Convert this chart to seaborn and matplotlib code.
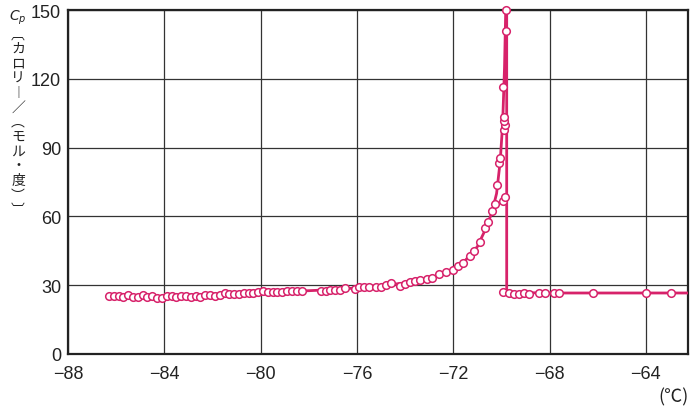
import numpy as np
import pandas as pd
import matplotlib
matplotlib.use("Agg")
import matplotlib.pyplot as plt
import seaborn as sns

# measured points (temperature in deg C, Cp in cal/(mol*deg))
low_t = [-86.3, -86.1, -85.9, -85.7, -85.5, -85.3, -85.1, -84.9, -84.7, -84.5,
         -84.3, -84.1, -83.9, -83.7, -83.5, -83.3, -83.1, -82.9, -82.7, -82.5,
         -82.3, -82.1, -81.9, -81.7, -81.5, -81.3, -81.1, -80.9, -80.7, -80.5,
         -80.3, -80.1, -79.9, -79.7, -79.5, -79.3, -79.1, -78.9, -78.7, -78.5,
         -78.3, -77.5, -77.3, -77.1, -76.9, -76.7, -76.5, -76.1, -75.9, -75.7,
         -75.5, -75.2, -75.0, -74.8, -74.6, -74.2, -74.0, -73.8, -73.6, -73.4,
         -73.1, -72.9]
low_cp = [25.3, 25.2, 25.3, 25.0, 25.6, 25.0, 24.8, 25.6, 25.0, 25.1,
          24.6, 24.5, 25.1, 25.1, 25.0, 25.3, 25.5, 25.0, 25.4, 24.9,
          25.6, 25.7, 25.5, 25.8, 26.5, 26.2, 26.2, 26.3, 26.6, 26.7,
          26.8, 26.9, 27.3, 27.0, 27.1, 27.2, 27.2, 27.3, 27.4, 27.5,
          27.5, 27.6, 27.3, 27.8, 28.0, 28.1, 28.9, 28.5, 29.1, 29.3,
          29.0, 29.4, 29.4, 30.1, 31.0, 29.6, 30.6, 31.2, 32.0, 32.4,
          32.5, 33.3]

peak_t = [-72.6, -72.3, -72.03, -71.8, -71.6, -71.3, -71.14, -70.9, -70.7, -70.55,
          -70.41, -70.27, -70.18, -70.08, -70.04, -69.94, -69.86, -69.9, -69.87, -69.89,
          -69.89, -69.93, -69.8, -69.8]
peak_cp = [34.9, 35.6, 36.8, 38.5, 39.7, 42.9, 44.8, 48.7, 54.8, 57.4,
           62.5, 65.4, 73.7, 83.3, 85.3, 66.6, 68.6, 97.7, 100.0, 101.7,
           103.2, 116.3, 141.0, 150.0]

high_t = [-69.94, -69.69, -69.49, -69.28, -69.07, -68.87, -68.45, -68.2, -67.83, -67.6,
          -66.2, -63.98, -62.97]
high_cp = [27.2, 26.6, 26.2, 26.2, 26.5, 26.2, 26.6, 26.5, 26.6, 26.6,
           26.6, 26.5, 26.6]

# smooth curve drawn through the points
curve_t = [-86.3, -85.0, -84.0, -83.0, -82.0, -81.0, -80.0, -79.0, -78.0, -77.0,
           -76.0, -75.0, -74.0, -73.0, -72.5, -72.0, -71.5, -71.0, -70.7, -70.4,
           -70.2, -70.05, -69.95, -69.87, -69.82, -69.78, -69.78, -69.6, -68.0, -66.0,
           -64.0, -62.25]
curve_cp = [25.1, 25.0, 25.0, 25.2, 25.7, 26.3, 26.8, 27.2, 27.6, 28.1,
            28.8, 29.8, 31.0, 33.0, 34.7, 36.8, 40.8, 46.8, 53.5, 61.5,
            70.0, 84.0, 100.0, 125.0, 150.0, 150.0, 27.5, 26.8, 26.6, 26.6,
            26.6, 26.6]

x_ticks = [-88, -84, -80, -76, -72, -68, -64]
y_ticks = [0, 30, 60, 90, 120, 150]
ylabel_chars = ["$C_p$", "︹", "カ", "ロ", "リ", "︱", "／", "︵", "モ", "ル", "・", "度", "︶", "︺"]

points = pd.DataFrame({
    "t": low_t + peak_t + high_t,
    "cp": low_cp + peak_cp + high_cp,
})
curve = pd.DataFrame({"t": curve_t, "cp": curve_cp})

sns.set_style("white")
plt.rcParams["font.family"] = ["Liberation Sans Narrow", "Liberation Sans", "Noto Sans CJK JP", "DejaVu Sans"]
plt.rcParams["axes.unicode_minus"] = True

line_color = "#d7226a"

fig = plt.figure(figsize=(6.96, 4.14), dpi=100)
ax = fig.add_axes([68 / 696, 59 / 414, 620 / 696, 344 / 414])

sns.lineplot(data=curve, x="t", y="cp", sort=False, estimator=None,
             color=line_color, linewidth=2.0, ax=ax, zorder=3)
sns.scatterplot(data=points, x="t", y="cp", marker="o", s=30,
                facecolor="white", edgecolor=line_color, linewidth=1.1,
                ax=ax, zorder=4, clip_on=False)

ax.set_xlim(-88, -62.25)
ax.set_ylim(0, 150)
ax.set_xticks(x_ticks)
ax.set_yticks(y_ticks)
ax.grid(True, color="#333333", linewidth=0.9)
ax.tick_params(axis="both", length=0, labelsize=13, colors="#222222")
ax.tick_params(axis="x", pad=8)
ax.tick_params(axis="y", pad=5)
for sp in ax.spines.values():
    sp.set_color("#222222")
    sp.set_linewidth(1.6)
ax.set_xlabel("")
ax.set_ylabel("")

fig.text(0.026, 0.98, "\n".join(ylabel_chars), ha="center", va="top",
         fontsize=10, linespacing=1.06, color="#222222",
         family=["Noto Sans CJK JP", "DejaVu Sans"])
fig.text(0.99, 0.018, "(℃)", ha="right", va="bottom", fontsize=13,
         color="#222222", family=["Noto Sans CJK JP", "DejaVu Sans"])

fig.savefig("out.png", dpi=100)
